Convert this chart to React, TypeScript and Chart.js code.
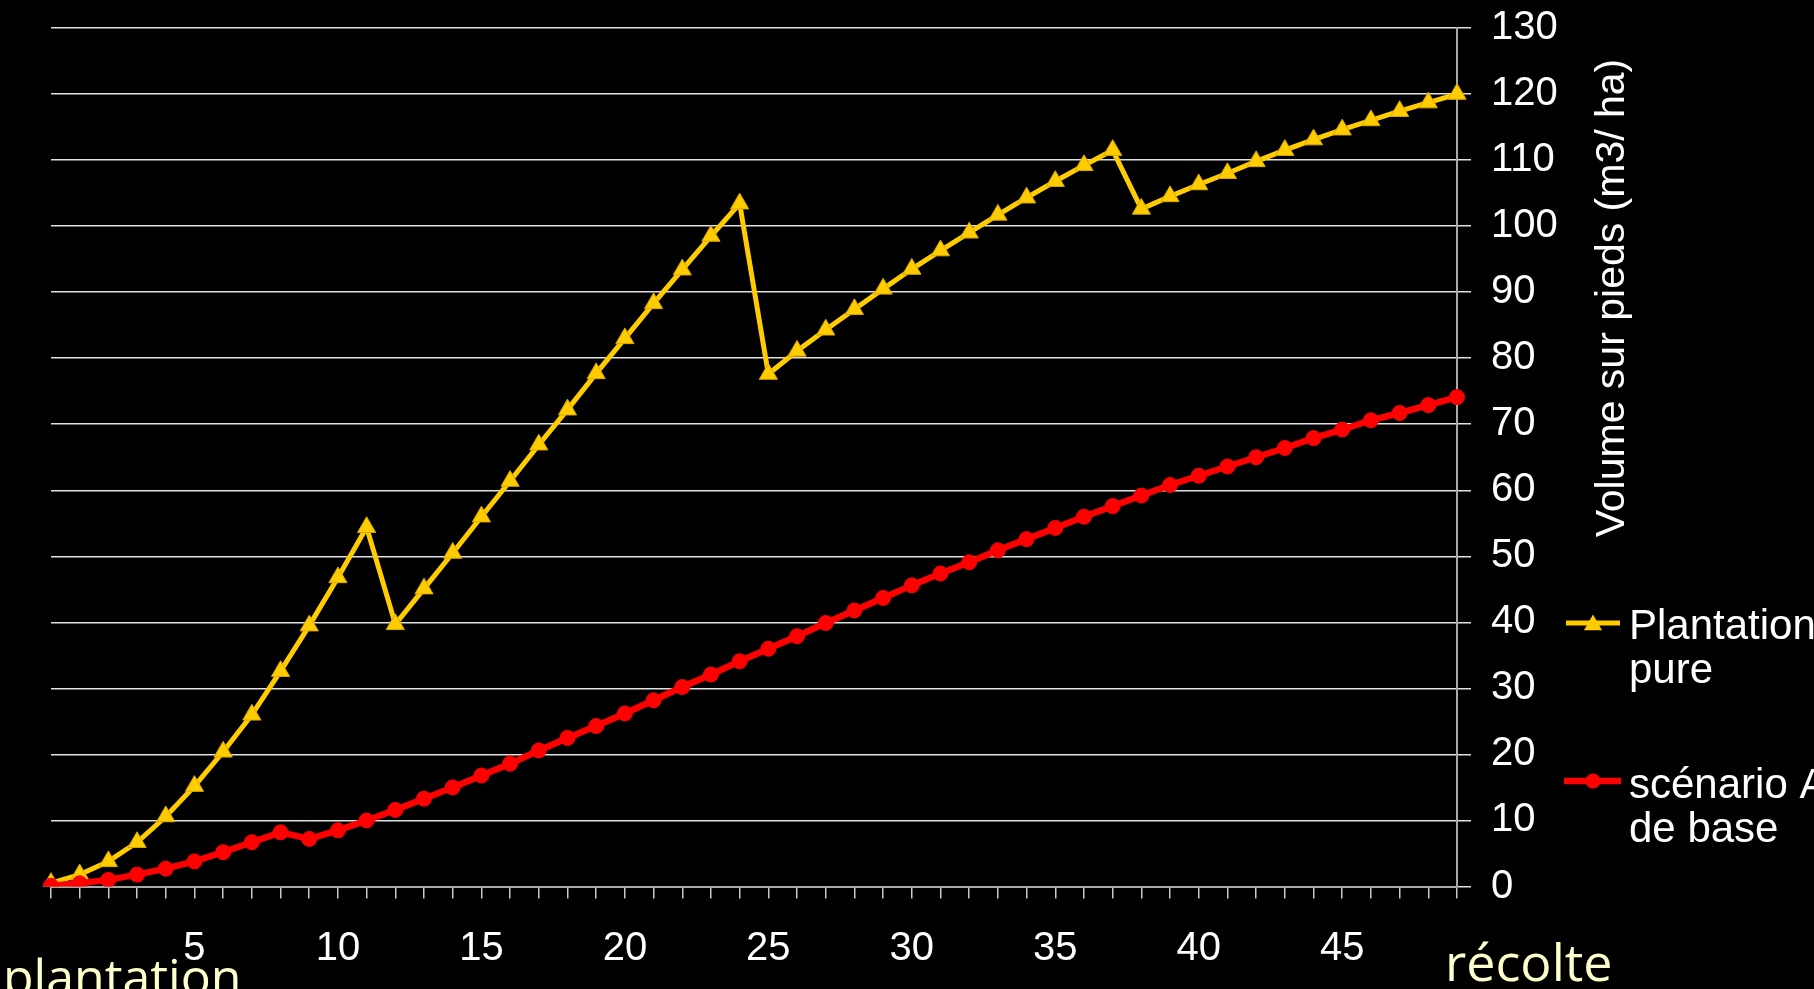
import React, { useEffect, useRef } from 'react';
import { Chart, registerables } from 'chart.js';

Chart.register(...registerables);

const W = 1814;
const H = 989;
const FONT = "'Liberation Sans', Arial, sans-serif";
const HAND_FONT = "'Comic Sans MS', 'Open Sans', sans-serif";

// Categories: years since planting
const YEARS = [
  '0', '1', '2', '3', '4', '5', '6', '7', '8', '9',
  '10', '11', '12', '13', '14', '15', '16', '17', '18', '19',
  '20', '21', '22', '23', '24', '25', '26', '27', '28', '29',
  '30', '31', '32', '33', '34', '35', '36', '37', '38', '39',
  '40', '41', '42', '43', '44', '45', '46', '47', '48', '49',
];
const SHOWN_X_LABELS = ['5', '10', '15', '20', '25', '30', '35', '40', '45'];

// Volume sur pieds (m3/ha)
const PLANTATION_PURE = [
  0.5, 1.8, 3.8, 6.7, 10.6, 15.2, 20.4, 26.0, 32.6, 39.5,
  46.8, 54.4, 39.7, 45.1, 50.5, 56.0, 61.4, 66.9, 72.2, 77.7,
  83.0, 88.3, 93.4, 98.5, 103.4, 77.6, 81.1, 84.3, 87.4, 90.5,
  93.5, 96.3, 99.0, 101.7, 104.3, 106.8, 109.2, 111.5, 102.6, 104.5,
  106.3, 108.0, 109.8, 111.5, 113.1, 114.6, 116.0, 117.4, 118.7, 120.0,
];
const SCENARIO_A = [
  0.1, 0.5, 1.0, 1.8, 2.7, 3.8, 5.2, 6.7, 8.2, 7.2,
  8.5, 10.0, 11.6, 13.3, 15.0, 16.8, 18.6, 20.6, 22.5, 24.3,
  26.2, 28.2, 30.2, 32.1, 34.1, 36.0, 37.9, 39.9, 41.8, 43.7,
  45.6, 47.4, 49.1, 50.9, 52.6, 54.3, 56.0, 57.6, 59.2, 60.8,
  62.2, 63.6, 65.0, 66.4, 67.9, 69.2, 70.6, 71.7, 72.9, 74.1,
];

const SERIES_NAMES = [['Plantation', 'pure'], ['scénario A', 'de base']];
const Y_TITLE = 'Volume sur pieds (m3/ ha)';
const START_LABEL = 'plantation';
const END_LABEL = 'récolte';

const Y_MIN = 0;
const Y_MAX = 130;
const Y_STEP = 10;

const YELLOW = '#FFCC00';
const RED = '#FF0000';
const CREAM = '#FFFFCC';

function drawTriangle(ctx: CanvasRenderingContext2D, x: number, y: number, r: number) {
  ctx.beginPath();
  ctx.moveTo(x, y - r);
  ctx.lineTo(x + r * Math.sin((2 * Math.PI) / 3), y - r * Math.cos((2 * Math.PI) / 3));
  ctx.lineTo(x + r * Math.sin((4 * Math.PI) / 3), y - r * Math.cos((4 * Math.PI) / 3));
  ctx.closePath();
  ctx.fill();
}

const overlayPlugin = {
  id: 'overlay',
  beforeDraw(chart: any) {
    const ctx = chart.ctx;
    ctx.save();
    ctx.fillStyle = '#000';
    ctx.fillRect(0, 0, chart.width, chart.height);
    ctx.restore();
  },
  afterDraw(chart: any) {
    const ctx: CanvasRenderingContext2D = chart.ctx;
    ctx.save();
    // Rotated axis title (reads bottom to top)
    ctx.translate(1624, 298);
    ctx.rotate(-Math.PI / 2);
    ctx.font = `41px ${FONT}`;
    ctx.fillStyle = '#fff';
    ctx.textAlign = 'center';
    ctx.textBaseline = 'alphabetic';
    ctx.fillText(Y_TITLE, 0, 0);
    ctx.restore();

    // Legend
    ctx.save();
    ctx.font = `42px ${FONT}`;
    ctx.textAlign = 'left';
    ctx.textBaseline = 'alphabetic';
    // entry 1
    ctx.strokeStyle = YELLOW;
    ctx.lineWidth = 5;
    ctx.beginPath();
    ctx.moveTo(1566, 623);
    ctx.lineTo(1620, 623);
    ctx.stroke();
    ctx.fillStyle = YELLOW;
    drawTriangle(ctx, 1593, 625, 10.5);
    ctx.fillStyle = '#fff';
    ctx.fillText(SERIES_NAMES[0][0], 1629, 639);
    ctx.fillText(SERIES_NAMES[0][1], 1629, 683);
    // entry 2
    ctx.strokeStyle = RED;
    ctx.lineWidth = 6.5;
    ctx.beginPath();
    ctx.moveTo(1564, 781);
    ctx.lineTo(1621, 781);
    ctx.stroke();
    ctx.fillStyle = RED;
    ctx.beginPath();
    ctx.arc(1593, 781, 7.5, 0, Math.PI * 2);
    ctx.fill();
    ctx.fillStyle = '#fff';
    ctx.fillText(SERIES_NAMES[1][0], 1629, 798);
    ctx.fillText(SERIES_NAMES[1][1], 1629, 842);
    ctx.restore();

    // Hand-written style annotations
    ctx.save();
    ctx.fillStyle = CREAM;
    ctx.textAlign = 'left';
    ctx.textBaseline = 'alphabetic';
    ctx.font = `50px ${HAND_FONT}`;
    ctx.fillText(START_LABEL, 3, 995);
    ctx.font = `52px ${HAND_FONT}`;
    ctx.fillText(END_LABEL, 1445, 981);
    ctx.restore();
  },
};

export default function App() {
  const canvasRef = useRef<HTMLCanvasElement | null>(null);

  useEffect(() => {
    const canvas = canvasRef.current;
    if (!canvas) return;
    const chart = new Chart(canvas, {
      type: 'line',
      data: {
        labels: YEARS,
        datasets: [
          {
            label: SERIES_NAMES[0].join(' '),
            data: PLANTATION_PURE,
            borderColor: YELLOW,
            backgroundColor: YELLOW,
            borderWidth: 5,
            tension: 0,
            pointStyle: 'triangle',
            pointRadius: 10.5,
            pointBackgroundColor: YELLOW,
            pointBorderColor: '#d9a800',
            pointBorderWidth: 1,
            order: 1,
          },
          {
            label: SERIES_NAMES[1].join(' '),
            data: SCENARIO_A,
            borderColor: RED,
            backgroundColor: RED,
            borderWidth: 6.5,
            tension: 0,
            pointStyle: 'circle',
            pointRadius: 7.5,
            pointBackgroundColor: RED,
            pointBorderColor: RED,
            pointBorderWidth: 1,
            order: 0,
          },
        ],
      },
      options: {
        animation: false,
        responsive: false,
        maintainAspectRatio: false,
        devicePixelRatio: 1,
        layout: { padding: { left: 51, top: 28, right: 0, bottom: 0 } },
        plugins: {
          legend: { display: false },
          tooltip: { enabled: false },
          title: { display: false },
        },
        scales: {
          x: {
            type: 'category',
            offset: false,
            grid: {
              display: true,
              drawOnChartArea: false,
              drawTicks: true,
              tickLength: 12,
              color: '#c8c8c8',
              lineWidth: 1.5,
            },
            border: { display: true, color: '#a8a8a8', width: 2 },
            ticks: {
              autoSkip: false,
              maxRotation: 0,
              minRotation: 0,
              color: '#fff',
              padding: 26,
              font: { size: 40, family: FONT },
              callback: (_v: any, i: number) => (SHOWN_X_LABELS.includes(YEARS[i]) ? YEARS[i] : ''),
            },
            afterFit: (s: any) => {
              s.height = 102.5;
              s.paddingLeft = 0;
              s.paddingRight = 0;
            },
          },
          y: {
            position: 'right',
            min: Y_MIN,
            max: Y_MAX,
            grid: {
              color: '#e0e0e0',
              lineWidth: 1.5,
              drawTicks: true,
              tickLength: 14,
            },
            border: { display: true, color: '#a8a8a8', width: 2 },
            ticks: {
              stepSize: Y_STEP,
              color: '#fff',
              padding: 20,
              font: { size: 40, family: FONT },
            },
            afterFit: (s: any) => {
              s.width = 357;
              s.paddingTop = 0;
              s.paddingBottom = 0;
            },
          },
        },
      },
      plugins: [overlayPlugin],
    });
    return () => chart.destroy();
  }, []);

  return (
    <div
      style={{
        position: 'fixed',
        left: 0,
        top: 0,
        width: W,
        height: H,
        overflow: 'hidden',
        background: '#000',
      }}
    >
      <canvas ref={canvasRef} width={W} height={H} style={{ width: W, height: H, display: 'block' }} />
    </div>
  );
}
